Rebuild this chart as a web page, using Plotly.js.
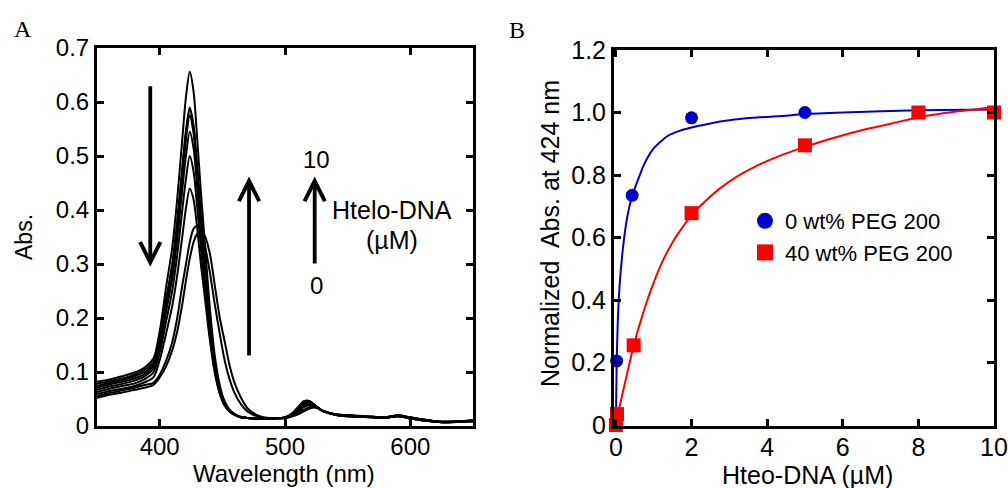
<!DOCTYPE html>
<html>
<head>
<meta charset="utf-8">
<script src="https://cdn.plot.ly/plotly-3.0.1.min.js"></script>
<style>html,body{margin:0;padding:0;background:#fff;}#chart{width:1008px;height:488px;}</style>
</head>
<body>
<div id="chart"></div>
<script>
// ---------- Panel A: UV-vis spectra (wavelength, nm) ----------
const wavelength = [350,360,370,380,388,395,400,405,410,414,418,421,424,427,430,433,436,440,444,448,452,456,460,465,470,480,490,500,505,510,515,520,525,530,540,550,560,570,580,590,600,610,620,630,640,650];

const spec1 = [.082,.086,.092,.099,.108, .125,.175,.255,.33,.42,.53,.61,.656,.62,.53,.43,.34,.22,.13,.075,.045,.03,.022,.017, .015,.013,.014, .016,.022,.034,.046,.046,.036,.028,.022, .020,.019,.017,.016,.020,.016,.012,.009,.008,.009,.010];
const spec2 = [.078,.083,.088,.095,.104, .118,.162,.233,.299,.379,.477,.548,.59,.557,.477,.387,.306,.199,.118,.069,.042,.028,.021,.016, .015,.013,.014, .016,.022,.033,.045,.045,.036,.028,.022, .020,.018,.017,.016,.020,.016,.012,.009,.008,.009,.010];
const spec3 = [.074,.080,.085,.092,.100, .115,.158,.228,.295,.375,.471,.542,.585,.553,.473,.384,.304,.197,.117,.068,.042,.028,.021,.016, .015,.013,.014, .016,.021,.032,.044,.044,.036,.028,.022, .020,.018,.017,.016,.019,.016,.012,.009,.008,.009,.010];
const spec4 = [.071,.077,.082,.088,.096, .111,.154,.222,.288,.366,.462,.531,.575,.543,.465,.377,.299,.194,.115,.067,.041,.028,.021,.016, .015,.013,.014, .016,.021,.031,.043,.044,.036,.028,.022, .019,.018,.017,.015,.019,.015,.011,.009,.008,.009,.010];
const spec5 = [.067,.073,.078,.084,.092, .106,.147,.210,.273,.346,.437,.501,.545,.515,.44,.357,.283,.184,.11,.064,.04,.027,.021,.016, .015,.013,.014, .016,.021,.030,.041,.043,.036,.028,.021, .019,.018,.016,.015,.019,.015,.011,.008,.007,.008,.010];
const spec6 = [.063,.069,.074,.079,.087, .099,.136,.192,.25,.317,.399,.458,.50,.472,.404,.328,.26,.169,.102,.06,.037,.026,.02,.016, .015,.013,.014, .016,.020,.028,.038,.041,.036,.028,.021, .019,.017,.016,.015,.018,.015,.011,.008,.007,.008,.009];
const spec7 = [.059,.065,.069,.074,.081, .090,.122,.170,.222,.279,.35,.404,.44,.42,.365,.297,.239,.16,.098,.06,.038,.027,.021,.016, .015,.013,.014, .015,.019,.026,.035,.039,.035,.028,.021, .018,.017,.016,.015,.018,.014,.010,.008,.007,.008,.009];
const spec8 = [.055,.061,.066,.071,.076, .080,.095,.12,.155,.20,.26,.30,.34,.365,.371,.36,.335,.285,.225,.17,.12,.085,.06,.04, .027,.016,.014, .015,.018,.023,.030,.035,.034,.028,.021, .018,.017,.016,.015,.018,.014,.010,.008,.007,.008,.009];
const spec9 = [.052,.058,.062,.067,.071, .076,.090,.11,.14,.175,.225,.27,.31,.34,.356,.36,.352,.32,.26,.20,.155,.11,.078,.052, .033,.018,.014, .015,.017,.021,.027,.033,.034,.029,.021, .018,.017,.016,.015,.018,.014,.010,.008,.007,.008,.009];
const spectra = [spec1,spec2,spec3,spec4,spec5,spec6,spec7,spec8,spec9];

const ticksA_x = [400,500,600];
const ticksA_y = [0,0.1,0.2,0.3,0.4,0.5,0.6,0.7];
const ticksA_ytext = ['0','0.1','0.2','0.3','0.4','0.5','0.6','0.7'];

// ---------- Panel B: normalized absorbance at 424 nm ----------
const peg0_x = [0, 0.02, 0.43, 2, 5, 8, 10];
const peg0_y = [0, 0.205, 0.735, 0.983, 1.0, 1.0, 1.0];
const peg40_x = [0, 0.03, 0.47, 2, 5, 8, 10];
const peg40_y = [0, 0.035, 0.255, 0.678, 0.895, 1.0, 1.0];

const fit0_x = [0, 0.02, 0.05, 0.1, 0.2, 0.3, 0.43, 0.6, 0.75, 1.0, 1.37, 1.7, 2.0, 2.5, 3.0, 3.62, 4.5, 5.0, 6.0, 8.0, 10.0];
const fit0_y = [0, 0.2, 0.33, 0.45, 0.58, 0.665, 0.733, 0.79, 0.835, 0.885, 0.925, 0.942, 0.952, 0.965, 0.975, 0.983, 0.99, 0.995, 1.0, 1.007, 1.01];
const fit40_x = [0, 0.1, 0.25, 0.47, 0.7, 0.92, 1.2, 1.5, 1.7, 2.0, 2.4, 2.72, 3.2, 3.62, 4.2, 5.0, 5.8, 6.55, 7.3, 8.0, 9.0, 10.0];
const fit40_y = [0, 0.06, 0.14, 0.254, 0.35, 0.43, 0.515, 0.585, 0.622, 0.672, 0.72, 0.754, 0.795, 0.823, 0.855, 0.89, 0.92, 0.945, 0.965, 0.985, 1.003, 1.018];

const ticksB_x = [0,2,4,6,8,10];
const ticksB_y = [0,0.2,0.4,0.6,0.8,1.0,1.2];
const ticksB_ytext = ['0','0.2','0.4','0.6','0.8','1.0','1.2'];

const seriesNames = ['0 wt% PEG 200', '40 wt% PEG 200'];
const blue = '#0000CC', red = '#FF0000';

const traces = [];
spectra.forEach(function(s){
  traces.push({x: wavelength, y: s, xaxis:'x', yaxis:'y', type:'scatter', mode:'lines',
    line:{color:'#000', width:2, shape:'spline', smoothing:0.8}, showlegend:false, hoverinfo:'skip'});
});
traces.push({x: fit0_x, y: fit0_y, xaxis:'x2', yaxis:'y2', mode:'lines', line:{color:blue, width:2, shape:'spline', smoothing:0.6}, showlegend:false});
traces.push({x: fit40_x, y: fit40_y, xaxis:'x2', yaxis:'y2', mode:'lines', line:{color:red, width:2, shape:'spline', smoothing:0.6}, showlegend:false});
traces.push({x: peg0_x, y: peg0_y, xaxis:'x2', yaxis:'y2', mode:'markers', marker:{color:blue, size:13, symbol:'circle'}, showlegend:false, cliponaxis:false});
traces.push({x: peg40_x, y: peg40_y, xaxis:'x2', yaxis:'y2', mode:'markers', marker:{color:red, size:14, symbol:'square'}, showlegend:false, cliponaxis:false});
// legend entries
traces.push({x:[null], y:[null], xaxis:'x2', yaxis:'y2', mode:'markers', name: seriesNames[0], marker:{color:blue, size:20, symbol:'circle'}});
traces.push({x:[null], y:[null], xaxis:'x2', yaxis:'y2', mode:'markers', name: seriesNames[1], marker:{color:red, size:20, symbol:'square'}});

const F = 'Liberation Sans, Arial, sans-serif';
const axBase = {showgrid:false, zeroline:false, showline:true, linecolor:'#000', linewidth:3,
  mirror:'ticks', ticks:'inside', ticklen:7, tickwidth:3, tickcolor:'#000', automargin:false};

const layout = {
  width:1008, height:488, margin:{l:0,r:0,t:0,b:0}, paper_bgcolor:'#fff', plot_bgcolor:'#fff',
  showlegend:true,
  legend:{x:745/1008, y:1-200/488, xanchor:'left', yanchor:'top', bgcolor:'rgba(0,0,0,0)',
    font:{family:F, size:22, color:'#000'}, itemwidth:30, tracegroupgap:0},
  xaxis: Object.assign({}, axBase, {domain:[97/1008, 473/1008], anchor:'y', range:[350,650], ticklabelstandoff:-3,
    tickmode:'array', tickvals:ticksA_x, tickfont:{family:F, size:24, color:'#000'}}),
  yaxis: Object.assign({}, axBase, {domain:[62/488, 440/488], anchor:'x', range:[0,0.7],
    tickmode:'array', tickvals:ticksA_y, ticktext:ticksA_ytext, tickfont:{family:F, size:24, color:'#000'}}),
  xaxis2: Object.assign({}, axBase, {domain:[614/1008, 994/1008], anchor:'y2', range:[-0.05,10], ticklabelstandoff:-3,
    tickmode:'array', tickvals:ticksB_x, tickfont:{family:F, size:25, color:'#000'}}),
  yaxis2: Object.assign({}, axBase, {domain:[62/488, 438/488], anchor:'x2', range:[-0.003,1.2],
    tickmode:'array', tickvals:ticksB_y, ticktext:ticksB_ytext, tickfont:{family:F, size:25, color:'#000'}}),
  annotations: [
    // axis titles (placed as paper text to match the reference spacing)
    {xref:'paper', yref:'paper', x:284/1008, y:1-473/488, xanchor:'center', yanchor:'middle', text:'Wavelength (nm)', showarrow:false, font:{family:F, size:24, color:'#000'}},
    {xref:'paper', yref:'paper', x:807/1008, y:1-475/488, xanchor:'center', yanchor:'middle', text:'Hteo-DNA (µM)', showarrow:false, font:{family:F, size:25, color:'#000'}},
    {xref:'paper', yref:'paper', x:24/1008, y:1-237/488, xanchor:'center', yanchor:'middle', textangle:-90, text:'Abs.', showarrow:false, font:{family:F, size:23, color:'#000'}},
    {xref:'paper', yref:'paper', x:550/1008, y:1-234/488, xanchor:'center', yanchor:'middle', textangle:-90, text:'Normalized  Abs. at 424 nm', showarrow:false, font:{family:F, size:25, color:'#000'}},
    {xref:'paper', yref:'paper', x:23/1008, y:1-29/488, xanchor:'center', yanchor:'middle', text:'A', showarrow:false, font:{family:'Liberation Serif, Times New Roman, serif', size:24, color:'#000'}},
    {xref:'paper', yref:'paper', x:517/1008, y:1-30/488, xanchor:'center', yanchor:'middle', text:'B', showarrow:false, font:{family:'Liberation Serif, Times New Roman, serif', size:24, color:'#000'}},
    {xref:'x', yref:'y', axref:'x', ayref:'y', x:392.5, y:0.295, ax:392.5, ay:0.632, text:'', showarrow:true, arrowhead:5, arrowsize:1.05, arrowwidth:3.8, arrowcolor:'#000'},
    {xref:'x', yref:'y', axref:'x', ayref:'y', x:471.3, y:0.462, ax:471.3, ay:0.128, text:'', showarrow:true, arrowhead:5, arrowsize:1.05, arrowwidth:3.8, arrowcolor:'#000'},
    {xref:'x', yref:'y', axref:'x', ayref:'y', x:523.7, y:0.462, ax:523.7, ay:0.298, text:'', showarrow:true, arrowhead:5, arrowsize:1.05, arrowwidth:3.8, arrowcolor:'#000'},
    {xref:'x', yref:'y', x:525, y:0.493, text:'10', showarrow:false, font:{family:F, size:24, color:'#000'}},
    {xref:'x', yref:'y', x:525, y:0.261, text:'0', showarrow:false, font:{family:F, size:24, color:'#000'}},
    {xref:'x', yref:'y', x:585, y:0.40, text:'Htelo-DNA', showarrow:false, font:{family:F, size:25, color:'#000'}},
    {xref:'x', yref:'y', x:585, y:0.344, text:'(µM)', showarrow:false, font:{family:F, size:25, color:'#000'}}
  ]
};

Plotly.newPlot('chart', traces, layout, {staticPlot:true, displayModeBar:false});
</script>
</body>
</html>
